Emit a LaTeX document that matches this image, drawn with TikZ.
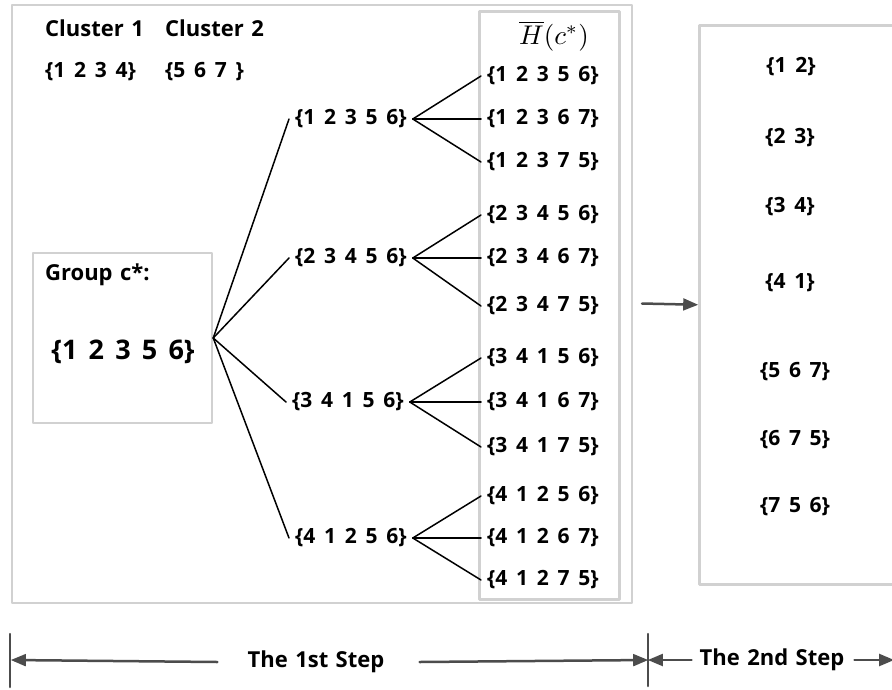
\documentclass[tikz,border=0pt]{standalone}
\usepackage{fontspec}
\setmainfont{Open Sans}[WordSpace=1.3]
\newfontfamily\setfont{Open Sans}[WordSpace=1.6]
\usepackage{tikz}
\usetikzlibrary{arrows}
\definecolor{bordergray}{rgb}{0.82,0.82,0.82}
\definecolor{stepgray}{rgb}{0.3,0.3,0.3}
\tikzset{
	setnode/.style={font=\setfont\bfseries\fontsize{21}{25}\selectfont,inner xsep=6pt,inner ysep=2pt},
	titlenode/.style={font=\bfseries\fontsize{22}{26}\selectfont,inner sep=0pt},
	framebox/.style={draw=bordergray,line width=2.5pt},
	treeline/.style={line width=1.5pt},
	stepline/.style={draw=stepgray,line width=2.5pt,->}
}
\begin{document}
\begin{tikzpicture}[line cap=round,line join=round,>=triangle 45,x=1pt,y=-1pt]
			\useasboundingbox (0,0) rectangle (892,689);
			\fill[white] (0,0) rectangle (892,689);
			% frames
			\draw[framebox] (12,5) rectangle (632,603);
			\node[framebox,minimum width=140pt,minimum height=588pt,anchor=north west] (hbox) at (478,10) {};
			\node[framebox,minimum width=212pt,minimum height=559pt,anchor=north west] (rbox) at (698,24) {};
			\node[framebox,minimum width=179pt,minimum height=170pt] (grp) at (122.5,338) {};
			% clusters
			\node[titlenode,anchor=west] (clus1) at (45,28) {Cluster 1};
			\node[titlenode,anchor=west] (clus2) at (165,28) {Cluster 2};
			\node[setnode,anchor=west,inner xsep=0pt] (clus1set) at (45,72) {\{1 2 3 4\}};
			\node[setnode,anchor=west,inner xsep=0pt] (clus2set) at (165,72) {\{5 6 7\ \}};
			% group c*
			\node[titlenode,anchor=west] (grplabel) at (45,275) {Group c*:};
			\node[setnode,font=\setfont\bfseries\fontsize{27}{32}\selectfont] (root) at (123,352) {\{1 2 3 5 6\}};
			% first level
			\node[setnode,anchor=west] (a1) at (289,119) {\{1 2 3 5 6\}};
			\node[setnode,anchor=west] (a2) at (289,258) {\{2 3 4 5 6\}};
			\node[setnode,anchor=west] (a3) at (286,402) {\{3 4 1 5 6\}};
			\node[setnode,anchor=west] (a4) at (289,538) {\{4 1 2 5 6\}};
			% H(c*)
			\node[scale=2.7,transform shape] (hbar) at (554,36) {$\overline{H}(c^{*})$};
			\node[setnode,anchor=west] (l1) at (481,76) {\{1 2 3 5 6\}};
			\node[setnode,anchor=west] (l2) at (481,119) {\{1 2 3 6 7\}};
			\node[setnode,anchor=west] (l3) at (481,162) {\{1 2 3 7 5\}};
			\node[setnode,anchor=west] (l4) at (481,215) {\{2 3 4 5 6\}};
			\node[setnode,anchor=west] (l5) at (481,258) {\{2 3 4 6 7\}};
			\node[setnode,anchor=west] (l6) at (481,306) {\{2 3 4 7 5\}};
			\node[setnode,anchor=west] (l7) at (481,358) {\{3 4 1 5 6\}};
			\node[setnode,anchor=west] (l8) at (481,402) {\{3 4 1 6 7\}};
			\node[setnode,anchor=west] (l9) at (481,447) {\{3 4 1 7 5\}};
			\node[setnode,anchor=west] (l10) at (481,496) {\{4 1 2 5 6\}};
			\node[setnode,anchor=west] (l11) at (481,538) {\{4 1 2 6 7\}};
			\node[setnode,anchor=west] (l12) at (481,580) {\{4 1 2 7 5\}};
			% tree
			\draw[treeline] (grp.east) -- (a1.west);
			\draw[treeline] (grp.east) -- (a2.west);
			\draw[treeline] (grp.east) -- (a3.west);
			\draw[treeline] (grp.east) -- (a4.west);
			\draw[treeline] (a1.east) -- (l1.west);
			\draw[treeline] (a1.east) -- (l2.west);
			\draw[treeline] (a1.east) -- (l3.west);
			\draw[treeline] (a2.east) -- (l4.west);
			\draw[treeline] (a2.east) -- (l5.west);
			\draw[treeline] (a2.east) -- (l6.west);
			\draw[treeline] (a3.east) -- (l7.west);
			\draw[treeline] (a3.east) -- (l8.west);
			\draw[treeline] (a3.east) -- (l9.west);
			\draw[treeline] (a4.east) -- (l10.west);
			\draw[treeline] (a4.east) -- (l11.west);
			\draw[treeline] (a4.east) -- (l12.west);
			% second step
			\node[setnode] (p1) at (791,67) {\{1 2\}};
			\node[setnode] (p2) at (790,138) {\{2 3\}};
			\node[setnode] (p3) at (790,207) {\{3 4\}};
			\node[setnode] (p4) at (790,283) {\{4 1\}};
			\node[setnode] (p5) at (795,372) {\{5 6 7\}};
			\node[setnode] (p6) at (795,440) {\{6 7 5\}};
			\node[setnode] (p7) at (795,507) {\{7 5 6\}};
			\coordinate (arrstart) at (642,303.5);
			\draw[stepline] (arrstart) -- (rbox.west);
			% steps
			\coordinate (t0top) at (10,634);
			\coordinate (t0bot) at (10,687);
			\coordinate (t0) at (11,660);
			\coordinate (t1top) at (648,634);
			\coordinate (t1bot) at (648,686);
			\coordinate (t1) at (648,660);
			\coordinate (tend) at (894,660);
			\draw[stepgray,line width=2.5pt] (t0top) -- (t0bot);
			\draw[stepgray,line width=2.5pt] (t1top) -- (t1bot);
			\node[titlenode] (step1) at (316,662) {The 1st Step};
			\node[titlenode] (step2) at (772,660) {The 2nd Step};
			\draw[stepline] ([xshift=-30pt]step1.west) -- (t0);
			\draw[stepline] ([xshift=35pt]step1.east) -- (t1);
			\draw[stepline] ([xshift=-8pt]step2.west) -- (t1);
			\draw[stepline] ([xshift=10pt]step2.east) -- (tend);
\end{tikzpicture}
\end{document}
